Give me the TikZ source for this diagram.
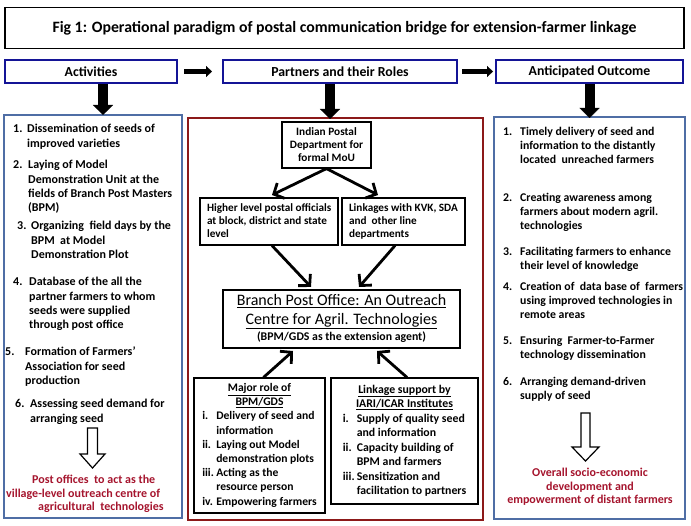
\documentclass[tikz,border=0pt]{standalone}
\usepackage{fontspec}
\setmainfont{Carlito}
\usetikzlibrary{arrows.meta}
\definecolor{hdrblue}{RGB}{20,20,150}
\definecolor{panelblue}{RGB}{79,110,165}
\definecolor{panelred}{RGB}{140,25,25}
\definecolor{txtred}{RGB}{165,20,45}
\newcommand\lstitem[3]{\begin{tabular}[t]{@{}p{#1}@{}l@{}}#2&#3\end{tabular}}
\begin{document}
\begin{tikzpicture}[x=1pt,y=-1pt,
  titlebox/.style={draw, line width=1.3pt, inner sep=0pt, font=\fontsize{15.8}{18}\selectfont\bfseries},
  hdr/.style={draw=hdrblue, line width=2pt, inner sep=0pt, minimum height=23, font=\fontsize{13.8}{16}\selectfont\bfseries},
  panel/.style={line width=2pt, inner sep=0pt},
  lt/.style={anchor=base west, inner sep=0pt, font=\fontsize{12}{14.2}\selectfont\bfseries},
  ltr/.style={anchor=base west, inner sep=0pt, font=\fontsize{11.8}{14}\selectfont\bfseries},
  redtxt/.style={inner sep=0pt, text=txtred, font=\fontsize{12}{14}\selectfont\bfseries},
  sbox/.style={draw, line width=1.2pt, inner sep=0pt, fill=white},
  midtxt/.style={font=\fontsize{11.2}{13}\selectfont\bfseries},
  conn/.style={line width=2.8pt, -{Straight Barb[length=8pt,width=17pt]}},
  blkh/.style={line width=5pt, -{Triangle[length=6pt,width=11pt,line width=0.1pt]}},
  blkv/.style={line width=10pt, -{Triangle[length=10pt,width=20pt,line width=0.1pt]}},
  hollow/.style={draw, line width=1.2pt, fill=white, line join=miter}
]
\useasboundingbox (0,0) rectangle (691,526);

% title
\node[titlebox, minimum width=679, minimum height=41] (title) at (344.5,28)
  {Fig 1: Operational paradigm of postal communication bridge for extension-farmer linkage};

% headers
\node[hdr, minimum width=172] (act) at (91,71.5) {Activities};
\node[hdr, minimum width=234] (par) at (340,71.5) {Partners and their Roles};
\node[hdr, minimum width=187] (out) at (589.5,71.5) {Anticipated Outcome};

% panels
\node[panel, draw=panelblue, minimum width=178, minimum height=403] (lp) at (93,316.5) {};
\node[panel, draw=panelred, minimum width=295, minimum height=402] (mp) at (335.5,319) {};
\node[panel, draw=panelblue, minimum width=191, minimum height=402] (rp) at (589.5,318) {};

% header arrows
\draw[blkh] ([xshift=6pt]act.east) -- ([xshift=-10pt]par.west);
\draw[blkh] ([xshift=4pt]par.east) -- ([xshift=-2pt]out.west);
\coordinate (d1) at (103,115);
\coordinate (d2) at (330,119);
\coordinate (d3) at (589.5,118);
\draw[blkv] ([xshift=12pt]act.south) -- (d1);
\draw[blkv] ([xshift=-10pt]par.south) -- (d2);
\draw[blkv] (out.south) -- (d3);

% left panel
\node[lt] (l1) at (13,133) {\lstitem{14pt}{1.}{Dissemination of seeds of\\&improved varieties}};
\node[lt] (l2) at (13,169) {\lstitem{15pt}{2.}{Laying of Model\\&Demonstration Unit at the\\&fields of Branch Post Masters\\&(BPM)}};
\node[lt] (l3) at (17,230) {\lstitem{14pt}{3.}{Organizing\ \ field days by the\\&BPM\ \ at Model\\&Demonstration Plot}};
\node[lt] (l4) at (13,286) {\lstitem{16pt}{4.}{Database of the all the\\&partner farmers to whom\\&seeds were supplied\\&through post office}};
\node[lt] (l5) at (5,356) {\lstitem{20pt}{5.}{Formation of Farmers’\\&Association for seed\\&production}};
\node[lt] (l6) at (15,408) {\lstitem{15pt}{6.}{Assessing seed demand for\\&arranging seed}};
\draw[hollow] (87.5,428) -- (97.5,428) -- (97.5,454) -- (105,454) -- (92.5,468) -- (80,454) -- (87.5,454) -- cycle;
\node[redtxt, anchor=base west] (lred) at (6,483) {\begin{tabular}[t]{@{}l@{}}\hspace{26pt}Post offices\ \ to act as the\\village-level outreach centre of\\\hspace{32pt}agricultural\ \ technologies\end{tabular}};

% right panel
\node[ltr] (r1) at (503,136) {\lstitem{17pt}{1.}{Timely delivery of seed and\\&information to the distantly\\&located\ \ unreached farmers}};
\node[ltr] (r2) at (503,202) {\lstitem{17pt}{2.}{Creating awareness among\\&farmers about modern agril.\\&technologies}};
\node[ltr] (r3) at (503,256) {\lstitem{17pt}{3.}{Facilitating farmers to enhance\\&their level of knowledge}};
\node[ltr] (r4) at (503,291) {\lstitem{17pt}{4.}{Creation of\ \ data base of\ \ farmers\\&using improved technologies in\\&remote areas}};
\node[ltr] (r5) at (503,345) {\lstitem{17pt}{5.}{Ensuring\ \ Farmer-to-Farmer\\&technology dissemination}};
\node[ltr] (r6) at (503,386) {\lstitem{17pt}{6.}{Arranging demand-driven\\&supply of seed}};
\draw[hollow] (581,413) -- (590,413) -- (590,447) -- (599,447) -- (585.5,461) -- (572,447) -- (581,447) -- cycle;
\node[redtxt, anchor=base] (rred) at (590,476) {\begin{tabular}[t]{@{}c@{}}Overall socio-economic\\development and\\empowerment of distant farmers\end{tabular}};

% middle panel
\node[sbox, minimum width=89, minimum height=46, align=center, font=\fontsize{11.3}{13}\selectfont\bfseries] (ind) at (326.5,145)
  {Indian Postal\\Department for\\formal MoU};
\node[sbox, midtxt, minimum width=138, minimum height=47] (hi) at (269,221.5)
  {\begin{tabular}{@{}l@{}}\makebox[124pt][l]{Higher level postal officials}\\at block, district and state\\level\end{tabular}};
\node[sbox, midtxt, minimum width=123, minimum height=47] (lk) at (403.5,221.5)
  {\begin{tabular}{@{}l@{}}\makebox[109pt][l]{Linkages with KVK, SDA}\\and\ \ other line\\departments\end{tabular}};
\node[sbox, minimum width=237, minimum height=58] (bpo) at (341.5,319)
  {\fontsize{16}{19}\selectfont\begin{tabular}{@{}c@{}}\underline{Branch Post Office: An Outreach}\\\underline{Centre for Agril. Technologies}\\[-3pt]{\fontsize{11.8}{12}\selectfont\bfseries (BPM/GDS as the extension agent)}\end{tabular}};
\node[sbox, minimum width=131, minimum height=135, font=\fontsize{11.6}{14.2}\selectfont\bfseries] (mr) at (259.5,445.5)
  {\begin{tabular}{@{}p{14pt}@{}l@{}}\multicolumn{2}{@{}c@{}}{\underline{Major role of}}\\\multicolumn{2}{@{}c@{}}{\underline{BPM/GDS}}\\i.&Delivery of seed and\\&information\\ii.&Laying out Model\\&demonstration plots\\iii.&Acting as the\\&resource person\\iv.&Empowering farmers\end{tabular}};
\node[sbox, minimum width=147, minimum height=126, font=\fontsize{11.8}{14.5}\selectfont\bfseries] (ls) at (404.5,441)
  {\begin{tabular}{@{}p{14pt}@{}l@{}}\multicolumn{2}{@{}c@{}}{\underline{Linkage support by}}\\\multicolumn{2}{@{}c@{}}{\underline{IARI/ICAR Institutes}}\\i.&Supply of quality seed\\&and information\\ii.&Capacity building of\\&BPM and farmers\\iii.&Sensitization and\\&facilitation to partners\end{tabular}};

% connectors
\coordinate (t1) at (272,195);
\coordinate (t2) at (378,195);
\coordinate (t3) at (311,287);
\coordinate (t4) at (359,287);
\coordinate (t5) at (293,351);
\coordinate (t6) at (377,351);
\draw[conn] (ind.south) -- (t1);
\draw[conn] (ind.south) -- (t2);
\draw[conn] ([xshift=3pt]hi.south) -- (t3);
\draw[conn] ([xshift=-8.5pt]lk.south) -- (t4);
\draw[conn] ([xshift=4pt]mr.north) -- (t5);
\draw[conn] ([xshift=2.5pt]ls.north) -- (t6);
\end{tikzpicture}
\end{document}
